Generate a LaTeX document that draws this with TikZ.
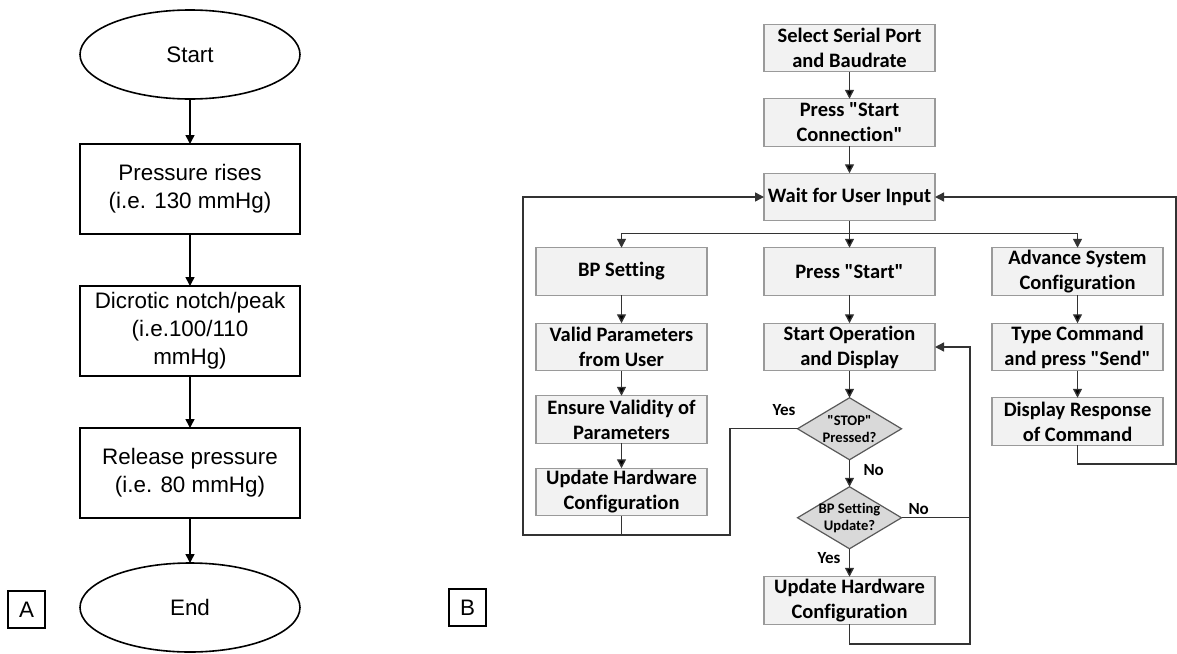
\documentclass[tikz,border=0pt]{standalone}
\usepackage{fontspec}
\setmainfont{Liberation Sans}
\newfontfamily\carlito{Carlito}[Ligatures=NoCommon]
\usepackage{xcolor}
\definecolor{boxgray}{HTML}{F2F2F2}
\definecolor{boxline}{HTML}{9A9A9A}
\definecolor{decgray}{HTML}{D9D9D9}
\definecolor{decline}{HTML}{595959}
\definecolor{flowline}{HTML}{333333}
\usetikzlibrary{positioning,shapes.geometric,arrows.meta,calc}

\begin{document}
\begin{tikzpicture}[x=1pt, y=-1pt, >={Triangle[length=9pt,width=9pt]}, outer sep=0pt]
   \tikzstyle{term}=[ellipse, draw=black, line width=1.6pt, minimum width=220pt, minimum height=89pt, inner sep=0pt, font=\fontsize{22.4}{28}\selectfont]
   \tikzstyle{proc}=[rectangle, draw=black, line width=1.6pt, minimum width=220pt, minimum height=90pt, inner sep=0pt, align=center, font=\fontsize{22.4}{28}\selectfont]
   \tikzstyle{panel}=[rectangle, draw=black, line width=1.6pt, minimum size=37pt, inner sep=0pt, font=\fontsize{22.4}{28}\selectfont]
   \tikzstyle{stepbox}=[rectangle, fill=boxgray, draw=boxline, line width=1.2pt, minimum width=171pt, minimum height=47.5pt, inner sep=1pt, align=center, font=\carlito\bfseries\fontsize{20.5}{25}\selectfont]
   \tikzstyle{decision}=[diamond, fill=decgray, draw=decline, line width=1.2pt, minimum width=104pt, minimum height=62pt, inner xsep=-14pt, inner ysep=-8pt, align=center, font=\carlito\bfseries\fontsize{14.6}{17}\selectfont]
   \tikzstyle{lbl}=[inner sep=0pt, font=\carlito\bfseries\fontsize{17}{20}\selectfont]
   \tikzstyle{flowA}=[->, draw=black, line width=1.6pt]
   \tikzstyle{flow}=[->, draw=flowline, line width=1.4pt]

   \useasboundingbox (0,0) rectangle (1177,653);

   % A: pressure cycle
   \node[term] (start) at (190,54.5) {Start};
   \node[proc] (rise) [below=45pt of start] {Pressure rises\\(i.e. 130 mmHg)};
   \node[proc] (notch) [below=52pt of rise] {Dicrotic notch/peak\\(i.e.100/110\\mmHg)};
   \node[proc] (release) [below=52pt of notch] {Release pressure\\(i.e. 80 mmHg)};
   \node[term] (end) [below=45pt of release] {End};
   \node[panel] (panelA) at (26.5,609.5) {A};

   % B: user interface
   \node[panel] (panelB) at (467.5,607.5) {B};
   \node[stepbox] (port) at (849.5,48) {Select Serial Port\\and Baudrate};
   \node[stepbox] (connect) [below=27pt of port] {Press "Start\\Connection"};
   \node[stepbox] (wait) [below=27pt of connect] {Wait for User Input};
   \node[stepbox] (pstart) [below=27pt of wait] {Press "Start"};
   \node[stepbox] (bpset) [left=57pt of pstart] {BP Setting};
   \node[stepbox] (advance) [right=57pt of pstart] {Advance System\\Configuration};
   \node[stepbox] (valid) [below=28pt of bpset] {Valid Parameters\\from User};
   \node[stepbox] (ensure) [below=25pt of valid] {Ensure Validity of\\Parameters};
   \node[stepbox] (hwleft) [below=25pt of ensure] {Update Hardware\\Configuration};
   \node[stepbox] (operate) [below=28pt of pstart] {Start Operation\\and Display};
   \node[decision] (stop) [below=27pt of operate] {"STOP"\\Pressed?};
   \node[decision] (bpupd) [below=27pt of stop] {BP Setting\\Update?};
   \node[stepbox] (hwbottom) [below=28pt of bpupd] {Update Hardware\\Configuration};
   \node[stepbox] (command) [below=28pt of advance] {Type Command\\and press "Send"};
   \node[stepbox] (response) [below=27pt of command] {Display Response\\of Command};

   \node[lbl] (yesstop) [above left=13pt and 2pt of stop.west] {Yes};
   \node[lbl] (nostop) [below right=5pt and 14pt of stop.south] {No};
   \node[lbl] (nobp) [above right=3pt and 7pt of bpupd.east] {No};
   \node[lbl] (yesbp) [below left=4pt and 9pt of bpupd.south] {Yes};

   \coordinate (split) at ($(wait.south)+(0,13)$);
   \coordinate (leftloop) at (523,535);
   \coordinate (stopbend) at (730,535);
   \coordinate (rightloop) at (1176,464);
   \coordinate (retbend) at (970,644);

   \path[flowA]
  (start) edge (rise)
  (rise) edge (notch)
  (notch) edge (release)
  (release) edge (end);

   \path[flow]
  (port) edge (connect)
  (connect) edge (wait)
  (wait) edge (pstart)
  (bpset) edge (valid)
  (valid) edge (ensure)
  (ensure) edge (hwleft)
  (pstart) edge (operate)
  (operate) edge (stop)
  (stop) edge (bpupd)
  (bpupd) edge (hwbottom)
  (advance) edge (command)
  (command) edge (response);

   \draw[flow] (split) -| (bpset.north);
   \draw[flow] (split) -| (advance.north);
   \draw[flow] (hwleft.south) |- (leftloop) |- (wait.west);
   \draw[flow,-] (stop.west) -| (stopbend) -- (hwleft.south |- stopbend);
   \draw[flow] (response.south) |- (rightloop) |- (wait.east);
   \draw[flow] (hwbottom.south) |- (retbend) |- (operate.east);
   \draw[flow,-] (bpupd.east) -- (bpupd.east -| retbend);
\end{tikzpicture}
\end{document}
